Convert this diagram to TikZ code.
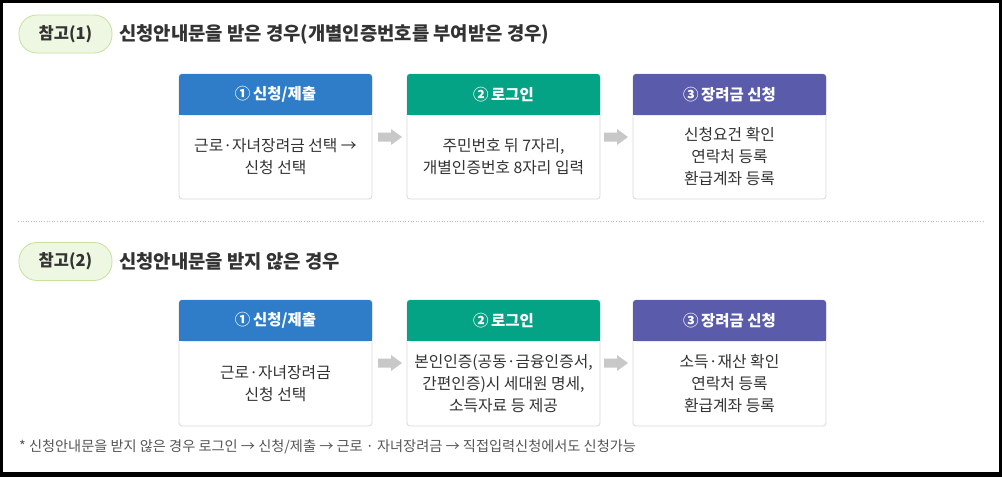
\documentclass[tikz,border=0pt]{standalone}
\usepackage{fontspec}
\setmainfont{Noto Sans CJK KR}
\definecolor{hblue}{HTML}{2F7DC8}
\definecolor{hgreen}{HTML}{05A385}
\definecolor{hpurple}{HTML}{5A5BAB}
\definecolor{txt}{HTML}{333333}
\definecolor{foot}{HTML}{555555}
\definecolor{boxline}{HTML}{D8D8D8}
\definecolor{arrowgray}{HTML}{C8C8C8}
\definecolor{pillfill}{HTML}{EEF7E2}
\definecolor{pillline}{HTML}{C4E39C}
\definecolor{sepline}{HTML}{BBBBBB}
\tikzset{
  boxbody/.style={draw=boxline, line width=0.8pt, fill=white, rounded corners=3pt,
    minimum width=193, inner sep=0pt, outer sep=0pt},
  hdrtext/.style={text=white, font=\bfseries\fontsize{15.5}{18}\selectfont, inner sep=0pt},
  bodytext/.style={text=txt, font=\fontsize{15.8}{22}\selectfont, align=center, inner sep=0pt},
  pill/.style={draw=pillline, line width=0.8pt, fill=pillfill, rounded corners=18pt,
    minimum width=93, minimum height=38, inner sep=0pt, text=txt,
    font=\bfseries\fontsize{16.5}{19}\selectfont},
  titletext/.style={anchor=west, inner sep=0pt, text=txt, font=\bfseries\fontsize{18.8}{22}\selectfont},
  foottext/.style={anchor=west, inner sep=0pt, text=foot, font=\fontsize{14.2}{16}\selectfont},
}
\newcommand\flowbox[7]{%
  \node[boxbody, minimum height={#4-#3}, anchor=north west] (#1) at (#2,#3) {};
  \fill[#5, rounded corners=3pt] (#1.north west) rectangle ([yshift=-41pt]#1.north east);
  \fill[#5] ([yshift=-20pt]#1.north west) rectangle ([yshift=-41pt]#1.north east);
  \node[hdrtext] (#1h) at ([yshift=-20.5pt]#1.north) {#6};
  \node[bodytext] (#1t) at ([yshift=-20.5pt]#1.center) {#7};
}
\newcommand\blockarrow[1]{%
  \fill[arrowgray] ([shift={(-12,-4.5)}]#1) -- ([shift={(1,-4.5)}]#1) -- ([shift={(1,-8)}]#1)
    -- ([shift={(12,0)}]#1) -- ([shift={(1,8)}]#1) -- ([shift={(1,4.5)}]#1)
    -- ([shift={(-12,4.5)}]#1) -- cycle;
}
\begin{document}
\begin{tikzpicture}[x=1pt,y=-1pt]
\useasboundingbox (0,0) rectangle (1002,477);
\fill[black] (0,0) rectangle (1002,477);
\fill[white] (3,3) rectangle (999,472);

% Section 1
\node[pill] (p1) at (65.5,34) {참고(1)};
\node[titletext] (t1) at (119,34) {신청안내문을 받은 경우(개별인증번호를 부여받은 경우)};

\flowbox{a1}{179}{74}{199}{hblue}{①\,신청/제출}{근로·자녀장려금 선택 →\\신청 선택}
\flowbox{a2}{407}{74}{199}{hgreen}{②\,로그인}{주민번호 뒤 7자리,\\개별인증번호 8자리 입력}
\flowbox{a3}{633}{74}{199}{hpurple}{③\,장려금 신청}{신청요건 확인\\연락처 등록\\환급계좌 등록}
\coordinate (ar1) at (390,137);
\coordinate (ar2) at (616,137);
\blockarrow{ar1}
\blockarrow{ar2}

% separator
\coordinate (s1) at (18,221);
\coordinate (s2) at (985,221);
\draw[sepline, line width=0.6pt, dotted] (s1) -- (s2);

% Section 2
\node[pill] (p2) at (65.5,261.5) {참고(2)};
\node[titletext] (t2) at (119,261.5) {신청안내문을 받지 않은 경우};

\flowbox{b1}{179}{300}{426}{hblue}{①\,신청/제출}{근로·자녀장려금\\신청 선택}
\flowbox{b2}{407}{300}{426}{hgreen}{②\,로그인}{본인인증(공동·금융인증서,\\간편인증)시 세대원 명세,\\소득자료 등 제공}
\flowbox{b3}{633}{300}{426}{hpurple}{③\,장려금 신청}{소득·재산 확인\\연락처 등록\\환급계좌 등록}
\coordinate (br1) at (390,363);
\coordinate (br2) at (616,363);
\blockarrow{br1}
\blockarrow{br2}

\node[foottext] (f) at (19,447) {* 신청안내문을 받지 않은 경우 로그인 → 신청/제출 → 근로 · 자녀장려금 → 직접입력신청에서도 신청가능};
\end{tikzpicture}
\end{document}
